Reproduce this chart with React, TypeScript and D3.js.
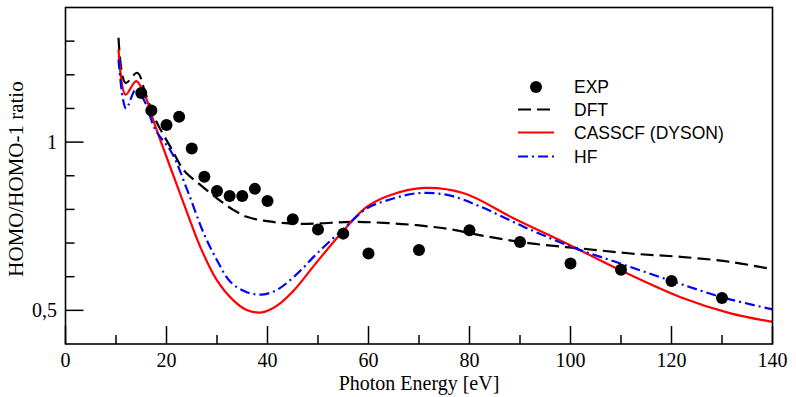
import React, { useEffect } from "react";
import * as d3 from "d3";

// experimental points
const expEnergy = [15, 17, 20, 22.5, 25, 27.5, 30, 32.5, 35, 37.5, 40, 45, 50, 55, 60, 70, 80, 90, 100, 110, 120, 130];
const expRatio = [1.146, 1.094, 1.051, 1.075, 0.981, 0.897, 0.855, 0.84, 0.84, 0.861, 0.825, 0.771, 0.74, 0.728, 0.669, 0.679, 0.738, 0.703, 0.639, 0.621, 0.587, 0.537];

// DFT curve
const dftEnergy = [10.5, 11.9, 14.2, 15.8, 17.8, 21.1, 23.4, 26.7, 30, 33.3, 35.9, 39.9, 44.6, 49.8, 56.4, 63, 69.6, 76.2, 82.2, 92.1, 102, 111.9, 121.8, 131.7, 140];
const dftRatio = [1.31, 1.176, 1.206, 1.146, 1.067, 0.977, 0.917, 0.873, 0.833, 0.798, 0.778, 0.765, 0.758, 0.758, 0.763, 0.76, 0.753, 0.741, 0.723, 0.699, 0.684, 0.669, 0.659, 0.644, 0.622];

// CASSCF (Dyson) curve
const casEnergy = [10.5, 11.9, 14.0, 15.8, 17.8, 20.1, 23.4, 26.7, 30, 33.3, 35.9, 38.9, 41.9, 45.2, 49.8, 55.1, 59.7, 64.4, 71, 78.9, 88.8, 100, 109.9, 121.8, 131.7, 140];
const casRatio = [1.276, 1.141, 1.181, 1.136, 1.047, 0.952, 0.818, 0.688, 0.589, 0.529, 0.501, 0.494, 0.514, 0.559, 0.644, 0.738, 0.808, 0.843, 0.864, 0.848, 0.773, 0.693, 0.619, 0.539, 0.491, 0.466];

// HF curve
const hfEnergy = [10.5, 12.0, 13.9, 15.5, 17.8, 21.1, 24.1, 27.4, 30, 32.7, 35.9, 38.9, 41.9, 45.9, 49.8, 55.1, 59.7, 64.4, 69.6, 75.6, 82.2, 90.8, 100, 109.9, 120.1, 130, 140];
const hfRatio = [1.246, 1.1, 1.156, 1.126, 1.037, 0.967, 0.858, 0.728, 0.649, 0.584, 0.554, 0.547, 0.561, 0.609, 0.669, 0.743, 0.803, 0.83, 0.848, 0.843, 0.808, 0.748, 0.69, 0.639, 0.587, 0.539, 0.503];

const xMajorTicks = [0, 20, 40, 60, 80, 100, 120, 140];
const xMinorTicks = [10, 30, 50, 70, 90, 110, 130];
const yMajorTicks = [0.5, 1];
const yMinorTicks = [0.6, 0.7, 0.8, 0.9, 1.1, 1.2, 1.3];

const legendLabels = ["EXP", "DFT", "CASSCF (DYSON)", "HF"];

const W = 796;
const H = 397;
const margin = { top: 7.5, right: 23.5, bottom: 53, left: 65.5 };

const serif = "'Liberation Serif', 'Times New Roman', serif";
const sans = "'Liberation Sans', Arial, sans-serif";

export default function App() {
  useEffect(() => {
    document.body.style.margin = "0";
  }, []);

  const x = d3.scaleLinear().domain([0, 140]).range([margin.left, W - margin.right]);
  const y = d3.scaleLinear().domain([0.4, 1.4]).range([H - margin.bottom, margin.top]);

  const line = d3
    .line<[number, number]>()
    .x((d) => x(d[0]))
    .y((d) => y(d[1]))
    .curve(d3.curveCatmullRom.alpha(0.5));

  const zip = (a: number[], b: number[]) => a.map((v, i) => [v, b[i]] as [number, number]);

  const series = [
    { pts: zip(dftEnergy, dftRatio), color: "#000", dash: "13,6", width: 2.2 },
    { pts: zip(casEnergy, casRatio), color: "#ff0000", dash: "", width: 2.2 },
    { pts: zip(hfEnergy, hfRatio), color: "#0000ff", dash: "10,4,2,4", width: 2.2 },
  ];

  const x0 = margin.left;
  const x1 = W - margin.right;
  const y0 = H - margin.bottom;
  const y1 = margin.top;

  const legendX = 536;
  const legendY = [87, 109.5, 132.5, 156.5];

  return (
    <svg width={W} height={H} style={{ display: "block", background: "#fff" }}>
      <defs>
        <clipPath id="plot">
          <rect x={x0} y={y1} width={x1 - x0} height={y0 - y1} />
        </clipPath>
      </defs>

      <g clipPath="url(#plot)">
        {series.map((s, i) => (
          <path
            key={i}
            d={line(s.pts) || ""}
            fill="none"
            stroke={s.color}
            strokeWidth={s.width}
            strokeDasharray={s.dash || undefined}
          />
        ))}
        {expEnergy.map((e, i) => (
          <circle key={i} cx={x(e)} cy={y(expRatio[i])} r={6} fill="#000" />
        ))}
      </g>

      {/* ticks */}
      {xMajorTicks.map((t) => (
        <g key={"xM" + t}>
          <line x1={x(t)} x2={x(t)} y1={y0} y2={y0 - 18} stroke="#000" strokeWidth={1.5} />
          <text x={x(t)} y={367} textAnchor="middle" fontFamily={serif} fontSize={20}>
            {t}
          </text>
        </g>
      ))}
      {xMinorTicks.map((t) => (
        <line key={"xm" + t} x1={x(t)} x2={x(t)} y1={y0} y2={y0 - 9} stroke="#000" strokeWidth={1.5} />
      ))}
      {yMajorTicks.map((t) => (
        <g key={"yM" + t}>
          <line x1={x0} x2={x0 + 18} y1={y(t)} y2={y(t)} stroke="#000" strokeWidth={1.5} />
          <text x={57} y={y(t) + 6.5} textAnchor="end" fontFamily={serif} fontSize={20}>
            {d3.format("")(t).replace(".", ",")}
          </text>
        </g>
      ))}
      {yMinorTicks.map((t) => (
        <line key={"ym" + t} x1={x0} x2={x0 + 9} y1={y(t)} y2={y(t)} stroke="#000" strokeWidth={1.5} />
      ))}

      <rect x={x0} y={y1} width={x1 - x0} height={y0 - y1} fill="none" stroke="#000" strokeWidth={1.6} />

      <text x={(x0 + x1) / 2} y={390} textAnchor="middle" fontFamily={serif} fontSize={20}>
        Photon Energy [eV]
      </text>
      <text
        transform={`translate(23, ${179}) rotate(-90)`}
        textAnchor="middle"
        fontFamily={serif}
        fontSize={21}
      >
        HOMO/HOMO-1 ratio
      </text>

      {/* legend */}
      <circle cx={legendX} cy={legendY[0]} r={6} fill="#000" />
      {series.map((s, i) => (
        <line
          key={"lg" + i}
          x1={legendX - 18}
          x2={legendX + 18}
          y1={legendY[i + 1]}
          y2={legendY[i + 1]}
          stroke={s.color}
          strokeWidth={s.width}
          strokeDasharray={s.dash || undefined}
        />
      ))}
      {legendLabels.map((l, i) => (
        <text key={l} x={574} y={legendY[i] + 6.3} fontFamily={sans} fontSize={17.5}>
          {l}
        </text>
      ))}
    </svg>
  );
}
